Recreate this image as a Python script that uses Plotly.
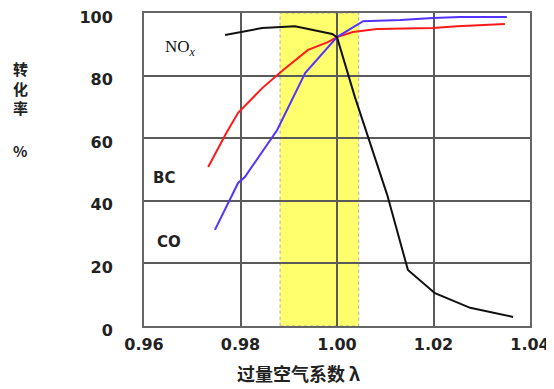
import plotly.graph_objects as go

# ---- data ----
nox_lambda = [0.9768, 0.9845, 0.9913, 0.9990, 1.0000, 1.0037, 1.0104, 1.0147, 1.0203, 1.0276, 1.0365]
nox_conv   = [93.0, 95.2, 95.8, 93.3, 92.3, 73.2, 41.9, 17.9, 10.5, 5.8, 2.9]

hc_lambda = [0.9733, 0.9770, 0.9795, 0.9845, 0.9886, 0.9940, 0.9981, 1.0000, 1.0033, 1.0083, 1.0199, 1.0249, 1.0348]
hc_conv   = [50.8, 61.5, 68.1, 76.0, 81.5, 88.2, 90.7, 92.3, 93.9, 94.9, 95.2, 95.8, 96.5]

co_lambda = [0.9747, 0.9795, 0.9809, 0.9876, 0.9934, 1.0000, 1.0054, 1.0131, 1.0199, 1.0255, 1.0352]
co_conv   = [30.7, 45.7, 47.6, 62.6, 80.8, 92.3, 97.4, 97.8, 98.4, 98.7, 98.7]

x_ticks = [0.96, 0.98, 1.00, 1.02, 1.04]
x_tick_labels = ["0.96", "0.98", "1.00", "1.02", "1.04"]
y_ticks = [0, 20, 40, 60, 80, 100]
y_tick_labels = ["0", "20", "40", "60", "80", "100"]

window_lambda = [0.9882, 1.0045]   # highlighted (yellow) window
label_box = [0.9600, 0.9766, 81.5, 100]  # white box behind NOx label

x_title = "过量空气系数 λ"
y_title = ["转", "化", "率", "%"]

GRID = "#5a5a5a"
TICKFONT = dict(family="DejaVu Sans", size=16, color="#222222", weight="bold")

fig = go.Figure()
fig.add_trace(go.Scatter(x=hc_lambda, y=hc_conv, mode="lines",
                         line=dict(color="#ff1a1a", width=2), name="HC"))
fig.add_trace(go.Scatter(x=co_lambda, y=co_conv, mode="lines",
                         line=dict(color="#5533ff", width=2), name="CO"))
fig.add_trace(go.Scatter(x=nox_lambda, y=nox_conv, mode="lines",
                         line=dict(color="#111111", width=2), name="NOx"))

fig.add_shape(type="rect", layer="below", xref="x", yref="y",
              x0=window_lambda[0], x1=window_lambda[1], y0=0, y1=100,
              fillcolor="#ffff6e", line=dict(color="#aaaaaa", width=1, dash="dot"))
fig.add_shape(type="rect", layer="between", xref="x", yref="y",
              x0=label_box[0], x1=label_box[1], y0=label_box[2], y1=label_box[3],
              fillcolor="white", line=dict(width=0))

fig.add_annotation(x=0.9675, y=88.8, xref="x", yref="y", showarrow=False,
                   text="NO<sub><i>x</i></sub>",
                   font=dict(family="Liberation Serif", size=17, color="#111111"))
fig.add_annotation(x=0.9641, y=47.3, xref="x", yref="y", showarrow=False,
                   text="<b>BC</b>", font=dict(family="DejaVu Sans", size=15, color="#222222"))
fig.add_annotation(x=0.9652, y=26.8, xref="x", yref="y", showarrow=False,
                   text="<b>CO</b>", font=dict(family="DejaVu Sans", size=15, color="#222222"))

fig.add_annotation(x=0.399, y=-0.150, xref="paper", yref="paper", showarrow=False,
                   xanchor="center", yanchor="middle",
                   text="<b>" + x_title + "</b>",
                   font=dict(family="Noto Sans CJK SC", size=18, color="#222222"))
# vertical y-axis title: characters stacked, then the unit below
fig.add_annotation(x=-0.321, y=0.76, xref="paper", yref="paper", showarrow=False,
                   xanchor="center", yanchor="middle",
                   text="<b>" + "<br>".join(y_title[:3]) + "</b>",
                   font=dict(family="Noto Sans CJK SC", size=15, color="#222222"))
fig.add_annotation(x=-0.321, y=0.562, xref="paper", yref="paper", showarrow=False,
                   xanchor="center", yanchor="middle",
                   text="<b>" + y_title[3] + "</b>",
                   font=dict(family="Noto Sans CJK SC", size=15, color="#222222"))

fig.update_xaxes(range=[0.96, 1.04], tickvals=x_ticks, ticktext=x_tick_labels,
                 showgrid=True, gridcolor=GRID, gridwidth=2,
                 showline=True, mirror=True, linecolor="#666666", linewidth=2,
                 zeroline=False, ticks="", tickfont=TICKFONT, ticklabelstandoff=3,
                 ticklabeloverflow="allow")
fig.update_yaxes(range=[0, 100], tickvals=y_ticks, ticktext=y_tick_labels,
                 showgrid=True, gridcolor=GRID, gridwidth=2,
                 showline=True, mirror=True, linecolor="#666666", linewidth=2,
                 zeroline=False, ticks="", tickfont=TICKFONT, ticklabelstandoff=26,
                 ticklabelshift=4, ticklabeloverflow="allow")

# page body has an 8px margin, so the figure is sized to fit the 554x389 window
fig.update_layout(width=546, height=381, showlegend=False,
                  margin=dict(l=136, r=24, t=5, b=63, autoexpand=False),
                  plot_bgcolor="white", paper_bgcolor="white")

fig.write_html("out.html")
